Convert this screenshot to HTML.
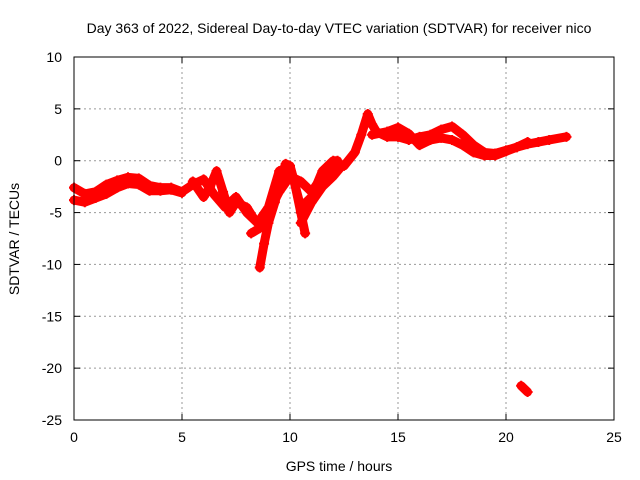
<!DOCTYPE html>
<html><head><meta charset="utf-8"><style>
body{margin:0;background:#fff}
svg{display:block;font-family:"Liberation Sans",sans-serif}
</style></head><body>
<svg id="chart" width="640" height="480" viewBox="0 0 640 480">
<rect width="640" height="480" fill="#fff"/>
<text x="339" y="33" font-size="14" text-anchor="middle">Day 363 of 2022, Sidereal Day-to-day VTEC variation (SDTVAR) for receiver nico</text>
<text x="339" y="471" font-size="14" text-anchor="middle">GPS time / hours</text>
<text transform="translate(19,239) rotate(-90)" font-size="14" text-anchor="middle">SDTVAR / TECUs</text>
<g id="grid"></g><g id="ticks"></g><g id="marks"></g>
<rect x="74" y="57" width="540" height="363" fill="none" stroke="#000" stroke-width="1"/>
</svg>
<script>
const xTicks=[0,5,10,15,20,25];
const yTicks=[10,5,0,-5,-10,-15,-20,-25];
const seriesA=[[0,-2.6],[0.5,-3.2],[1,-3.0],[1.5,-2.3],[2,-1.9],[2.5,-1.6],[3,-1.7],[3.5,-2.4],[4,-2.6],[4.5,-2.6],[5,-3.0],[5.5,-2.3],[6,-1.8],[6.5,-3.3],[7,-4.5],[7.5,-3.5],[8,-5],[8.5,-6],[9,-4.5],[9.5,-1],[10,-0.5],[10.5,-4.5],[11,-3.5],[11.5,-1],[12,0],[12.2,0]];
const seriesB=[[0,-3.8],[0.5,-4.0],[1,-3.6],[1.5,-3.2],[2,-2.6],[2.5,-2.2],[3,-2.3],[3.5,-2.9],[4,-2.9],[4.5,-2.8],[5,-3.1]];
const seriesC=[[5.5,-2.0],[6,-3.5],[6.3,-2.5],[6.6,-1.0],[6.9,-3.0],[7.2,-5.0],[7.5,-4.0],[8,-4.5],[8.3,-5.5]];
const seriesD=[[8.6,-10.3],[8.8,-8],[9.0,-6],[9.3,-4],[9.6,-1.5],[9.8,-0.3],[10.0,-0.5],[10.2,-2],[10.5,-5],[10.7,-7]];
const seriesE=[[8.2,-7],[8.6,-6.5],[9,-5],[9.5,-3],[10,-1.5],[10.5,-2],[11,-3],[11.5,-1.5],[12,-0.5]];
const seriesF=[[10.5,-6],[11,-4],[11.5,-2.5],[12,-1.5],[12.4,-0.5]];
const seriesG=[[12.5,-0.5],[13,0.8],[13.3,2.5],[13.6,4.5],[13.8,3.5],[14,2.8],[14.5,2.3],[15,2.3],[15.5,2.0],[16,2.3],[16.5,2.5],[17,3.0],[17.5,3.3],[18,2.5],[18.5,1.5],[19,0.8],[19.5,0.7],[20,1.0],[20.5,1.3],[21,1.6],[21.5,1.8],[22,2.0],[22.8,2.3]];
const seriesH=[[13.8,2.5],[14.5,2.8],[15,3.2],[15.5,2.6],[16,1.5],[16.5,2.0],[17,2.2],[17.5,2.0],[18,1.5],[18.5,0.8],[19,0.5],[19.5,0.5],[20,0.9],[20.5,1.3],[21,1.8]];
const seriesI=[[20.7,-21.7],[20.85,-22.0],[21.0,-22.3]];
const allSeries=[seriesA,seriesB,seriesC,seriesD,seriesE,seriesF,seriesG,seriesH,seriesI];
const NS="http://www.w3.org/2000/svg";
const X=h=>74+h*(540/25);
const Y=v=>57+(10-v)*(363/35);
function mk(tag,attrs,parent){const e=document.createElementNS(NS,tag);for(const k in attrs)e.setAttribute(k,attrs[k]);parent.appendChild(e);return e;}
const grid=document.getElementById('grid'),ticks=document.getElementById('ticks'),marks=document.getElementById('marks');
xTicks.forEach(t=>{const x=X(t);
 if(t>0&&t<25){const g=mk('line',{x1:x,x2:x,y1:57,y2:420,stroke:'#999','stroke-dasharray':'2,3'},grid);
 
 }
 mk('line',{x1:x,x2:x,y1:420,y2:414,stroke:'#000'},ticks);mk('line',{x1:x,x2:x,y1:57,y2:63,stroke:'#000'},ticks);
 const l=mk('text',{x:x,y:442,'font-size':14,'text-anchor':'middle'},ticks);l.textContent=t;
 
 });
yTicks.forEach(t=>{const y=Y(t);
 if(t<10&&t>-25){const g=mk('line',{x1:74,x2:614,y1:y,y2:y,stroke:'#999','stroke-dasharray':'2,3'},grid);
 
 }
 mk('line',{x1:74,x2:80,y1:y,y2:y,stroke:'#000'},ticks);mk('line',{x1:614,x2:608,y1:y,y2:y,stroke:'#000'},ticks);
 const l=mk('text',{x:62,y:y+5,'font-size':14,'text-anchor':'end'},ticks);l.textContent=t;
 
 });
allSeries.forEach((s,i)=>{
 const p=mk('polyline',{points:s.map(d=>X(d[0])+','+Y(d[1])).join(' '),fill:'none',stroke:'#f00','stroke-width':9,'stroke-linejoin':'round','stroke-linecap':'round'},marks);
 
 
 s.forEach(d=>{const x=X(d[0]),y=Y(d[1]);
  const m=mk('path',{d:`M${x-5},${y}H${x+5}M${x},${y-5}V${y+5}`,stroke:'#f00','stroke-width':2},marks);
  
  });
});
</script>
</body></html>
